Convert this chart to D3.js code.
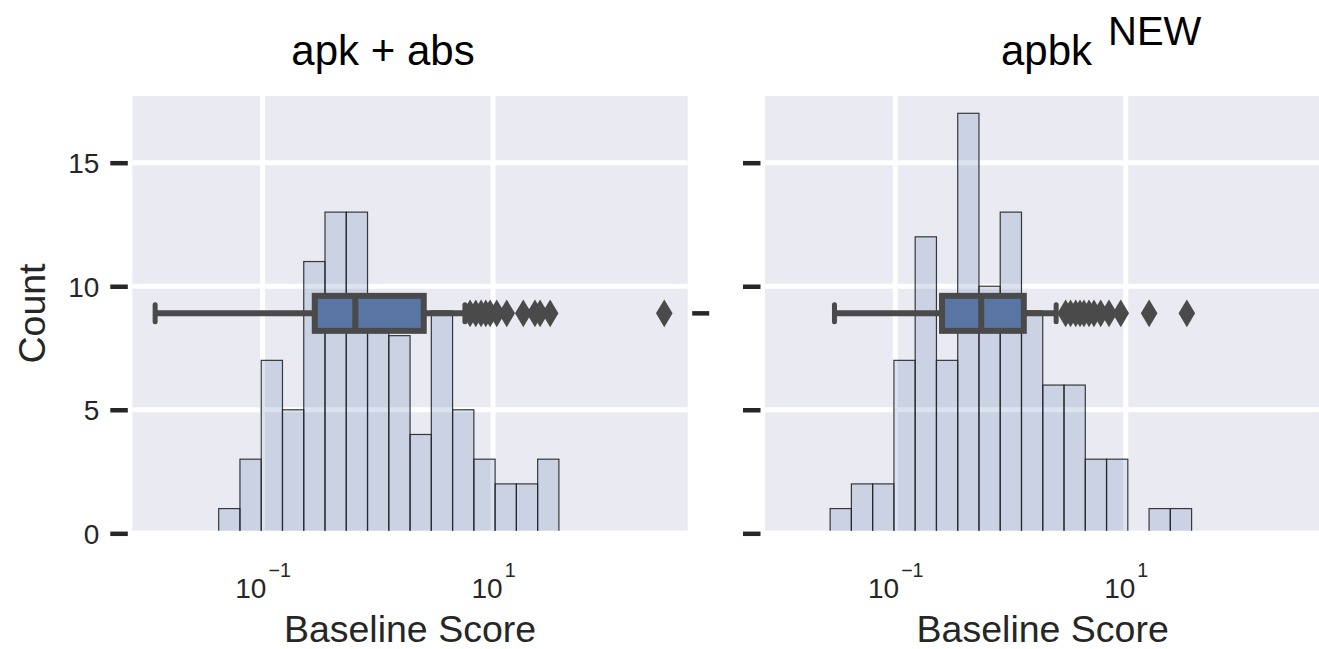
<!DOCTYPE html>
<html>
<head>
<meta charset="utf-8">
<script src="https://cdn.jsdelivr.net/npm/d3@7"></script>
<style>
  html, body { margin: 0; padding: 0; background: #fff; }
  svg { display: block; font-family: "Liberation Sans", Arial, Helvetica, sans-serif; }
</style>
</head>
<body>
<svg id="chart" width="1319" height="649"></svg>
<script>
// ---- data ----
const panelTitles = ["apk + abs", "apbk"];
const titleSuperscripts = ["", "NEW"];

// shared histogram bins, in log10 units
const binLogStart = -1.565;
const binLogWidth = 0.1845;
const countsApkAbs  = [0, 1, 3, 7, 5, 11, 13, 13, 9, 8, 4, 9, 5, 3, 2, 2, 3];
const countsApbkNew = [1, 2, 2, 7, 12, 7, 17, 10, 13, 9, 6, 6, 3, 3, 0, 1, 1];

// box summaries: [lower whisker, Q1, median, Q3, upper whisker]
const boxApkAbs  = [0.0117, 0.284, 0.638, 2.505, 5.7];
const boxApbkNew = [0.0297, 0.2547, 0.557, 1.305, 2.49];
const fliersApkAbs  = [6.32, 7.08, 7.87, 8.65, 9.43, 10.77, 13.15, 18.3, 23.1, 25.6, 31.3, 306];
const fliersApbkNew = [3.01, 3.32, 3.68, 4.01, 4.34, 4.80, 5.30, 6.06, 7.16, 9.05, 15.96, 33.9];

const yTicks = [0, 5, 10, 15];
const xTicks = [0.1, 10];
const xTickExponents = ["\u22121", "1"];
const xLabel = "Baseline Score";
const yLabel = "Count";

// ---- layout ----
const svg = d3.select("#chart");
const plotW = 555.4;
const plotTop = 96, plotBottom = 530.7;
const panelLefts = [132.3, 765];
const xDomain = [Math.pow(10, -2.130), Math.pow(10, 2.689)];
const y = d3.scaleLinear().domain([0, 17.7]).range([533.3, plotTop]);

const BG = "#eaeaf2";
const BAR = "#4c72b0";
const BOX_FILL = "#5875a4";
const BOX_LINE = "#4a4a4a";
const TEXT = "#262626";

const panels = [
  { counts: countsApkAbs,  box: boxApkAbs,  fliers: fliersApkAbs },
  { counts: countsApbkNew, box: boxApbkNew, fliers: fliersApbkNew }
];

const defs = svg.append("defs");

panels.forEach((p, i) => {
  const left = panelLefts[i];
  const right = left + plotW;
  const x = d3.scaleLog().domain(xDomain).range([left, right]);
  const g = svg.append("g").attr("class", "panel-" + i);

  const clipId = "clip-" + i;
  defs.append("clipPath").attr("id", clipId)
    .append("rect").attr("x", left).attr("y", plotTop)
    .attr("width", plotW).attr("height", plotBottom - plotTop);

  // background
  g.append("rect")
    .attr("x", left).attr("y", plotTop)
    .attr("width", plotW).attr("height", plotBottom - plotTop)
    .attr("fill", BG);

  const plot = g.append("g").attr("clip-path", `url(#${clipId})`);

  // grid
  plot.selectAll("line.hgrid").data(yTicks).join("line")
    .attr("class", "hgrid")
    .attr("x1", left).attr("x2", right)
    .attr("y1", d => y(d)).attr("y2", d => y(d))
    .attr("stroke", "#fff").attr("stroke-width", 5);
  plot.selectAll("line.vgrid").data(xTicks).join("line")
    .attr("class", "vgrid")
    .attr("x1", d => x(d)).attr("x2", d => x(d))
    .attr("y1", plotTop).attr("y2", plotBottom)
    .attr("stroke", "#fff").attr("stroke-width", 5);

  // histogram bars
  const bins = p.counts.map((c, k) => ({
    x0: Math.pow(10, binLogStart + k * binLogWidth),
    x1: Math.pow(10, binLogStart + (k + 1) * binLogWidth),
    count: c
  })).filter(b => b.count > 0);

  plot.selectAll("rect.bar").data(bins).join("rect")
    .attr("class", "bar")
    .attr("x", d => x(d.x0))
    .attr("width", d => x(d.x1) - x(d.x0))
    .attr("y", d => y(d.count))
    .attr("height", d => y(0) - y(d.count))
    .attr("fill", BAR).attr("fill-opacity", 0.2)
    .attr("stroke", "#262626").attr("stroke-opacity", 0.9)
    .attr("stroke-width", 1.2);

  // box plot, centred vertically in the axes
  const boxY = (plotTop + plotBottom) / 2;
  const boxH = 35;
  const [lw, q1, med, q3, uw] = p.box;
  const bg = g.append("g").attr("class", "box");

  bg.append("line")
    .attr("x1", x(lw)).attr("x2", x(q1))
    .attr("y1", boxY).attr("y2", boxY)
    .attr("stroke", BOX_LINE).attr("stroke-width", 6);
  bg.append("line")
    .attr("x1", x(q3)).attr("x2", x(uw))
    .attr("y1", boxY).attr("y2", boxY)
    .attr("stroke", BOX_LINE).attr("stroke-width", 6);
  bg.selectAll("line.cap").data([lw, uw]).join("line")
    .attr("class", "cap")
    .attr("x1", d => x(d)).attr("x2", d => x(d))
    .attr("y1", boxY - 8.5).attr("y2", boxY + 8.5)
    .attr("stroke", BOX_LINE).attr("stroke-width", 5)
    .attr("stroke-linecap", "round");
  bg.append("rect")
    .attr("x", x(q1)).attr("width", x(q3) - x(q1))
    .attr("y", boxY - boxH / 2).attr("height", boxH)
    .attr("fill", BOX_FILL)
    .attr("stroke", BOX_LINE).attr("stroke-width", 6);
  bg.append("line")
    .attr("x1", x(med)).attr("x2", x(med))
    .attr("y1", boxY - boxH / 2).attr("y2", boxY + boxH / 2)
    .attr("stroke", BOX_LINE).attr("stroke-width", 6);

  const hw = 8.3, hh = 13.8;
  bg.selectAll("path.flier").data(p.fliers).join("path")
    .attr("class", "flier")
    .attr("d", `M0,${-hh}L${hw},0L0,${hh}L${-hw},0Z`)
    .attr("transform", d => `translate(${x(d)},${boxY})`)
    .attr("fill", BOX_LINE);

  // y axis (labels only on the first panel)
  const yAxis = d3.axisLeft(y).tickValues(yTicks).tickSize(17.5).tickPadding(11)
    .tickFormat(i === 0 ? d3.format("d") : () => "");
  const ya = g.append("g")
    .attr("transform", `translate(${left - 4.5},0)`)
    .call(yAxis);
  ya.select(".domain").remove();
  ya.selectAll(".tick line").attr("stroke", TEXT).attr("stroke-width", 4.5);
  ya.selectAll(".tick text")
    .attr("fill", TEXT).attr("font-size", 28)
    .attr("font-family", null).attr("dy", "0.36em");

  // tick of the box plot's own axis, on the right edge
  g.append("line")
    .attr("x1", right + 4.5).attr("x2", right + 21.5)
    .attr("y1", boxY).attr("y2", boxY)
    .attr("stroke", TEXT).attr("stroke-width", 4.5);

  // x axis: powers of ten with superscript exponents
  const xAxis = d3.axisBottom(x).tickValues(xTicks).tickSize(0).tickFormat(() => "");
  const xa = g.append("g")
    .attr("transform", `translate(0,${plotBottom})`)
    .call(xAxis);
  xa.select(".domain").remove();
  xa.selectAll(".tick text").each(function(d, k) {
    const t = d3.select(this)
      .attr("y", 67.6).attr("dy", null)
      .attr("fill", TEXT).attr("font-family", null)
      .attr("text-anchor", "middle");
    t.append("tspan").attr("font-size", 28).text("10");
    t.append("tspan").attr("font-size", 19.6).attr("dx", 2).attr("dy", -21.6)
      .text(xTickExponents[k]);
  });

  // axis label
  g.append("text")
    .attr("x", left + plotW / 2).attr("y", 642)
    .attr("text-anchor", "middle")
    .attr("font-size", 37.5).attr("fill", TEXT)
    .text(xLabel);
});

// y label
svg.append("text")
  .attr("transform", "translate(45,313.5) rotate(-90)")
  .attr("text-anchor", "middle")
  .attr("font-size", 37.5).attr("fill", TEXT)
  .text(yLabel);

// titles
svg.append("text")
  .attr("x", 383).attr("y", 65)
  .attr("text-anchor", "middle")
  .attr("font-size", 42).attr("fill", "#000")
  .text(panelTitles[0]);
svg.append("text")
  .attr("x", 1046.5).attr("y", 65)
  .attr("text-anchor", "middle")
  .attr("font-size", 42).attr("fill", "#000")
  .text(panelTitles[1]);
svg.append("text")
  .attr("x", 1108).attr("y", 45)
  .attr("font-size", 40).attr("fill", "#000")
  .text(titleSuperscripts[1]);
</script>
</body>
</html>
